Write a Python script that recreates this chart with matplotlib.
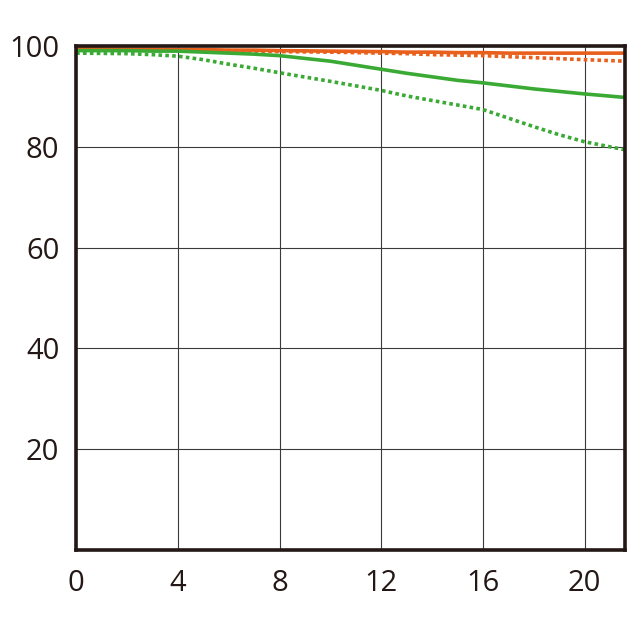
import numpy as np
import matplotlib
matplotlib.use("Agg")
import matplotlib.pyplot as plt

plt.rcParams['font.family'] = ['Open Sans', 'DejaVu Sans']

# image height (mm) vs contrast (%)
x = [0, 2, 3, 4, 5, 6, 7, 8, 10, 12, 13, 14, 15, 16, 17, 18, 19, 20, 21.6]

sag_10 = [99.5, 99.4, 99.4, 99.3, 99.3, 99.2, 99.2, 99.1, 99.0, 98.9, 98.8, 98.8, 98.7, 98.7, 98.6, 98.6, 98.6, 98.6, 98.6]
mer_10 = [99.3, 99.2, 99.2, 99.2, 99.1, 99.1, 99.0, 98.9, 98.8, 98.6, 98.5, 98.3, 98.2, 98.1, 97.9, 97.7, 97.5, 97.3, 97.0]
sag_30 = [99.1, 99.1, 99.0, 99.0, 98.8, 98.6, 98.4, 98.1, 97.0, 95.4, 94.6, 93.9, 93.2, 92.7, 92.1, 91.5, 91.0, 90.5, 89.8]
mer_30 = [98.6, 98.5, 98.3, 98.0, 97.3, 96.4, 95.6, 94.7, 93.0, 91.2, 90.1, 89.2, 88.3, 87.4, 85.7, 84.0, 82.4, 81.0, 79.4]

orange = '#e8601c'
green = '#3aaa35'

fig = plt.figure(figsize=(6.4, 6.4), dpi=100)
ax = fig.add_axes([0.119, 0.141, 0.858, 0.787])

ax.plot(x, sag_10, color=orange, lw=2.6)
ax.plot(x, mer_10, color=orange, lw=2.6, ls=(0, (1, 0.9)))
ax.plot(x, sag_30, color=green, lw=2.6)
ax.plot(x, mer_30, color=green, lw=2.6, ls=(0, (1, 0.9)))

ax.set_xlim(0, 21.6)
ax.set_ylim(0, 100)
ax.set_xticks([0, 4, 8, 12, 16, 20])
ax.set_yticks([20, 40, 60, 80, 100])
ax.grid(True, color='#3a3a3a', lw=0.8)
ax.set_axisbelow(True)
ax.tick_params(length=0, labelsize=21, colors='#231815')
ax.tick_params(axis='y', pad=12)
ax.tick_params(axis='x', pad=14)
for s in ax.spines.values():
    s.set_color('#231815')
    s.set_linewidth(2.6)

fig.savefig('out.png', dpi=100)
